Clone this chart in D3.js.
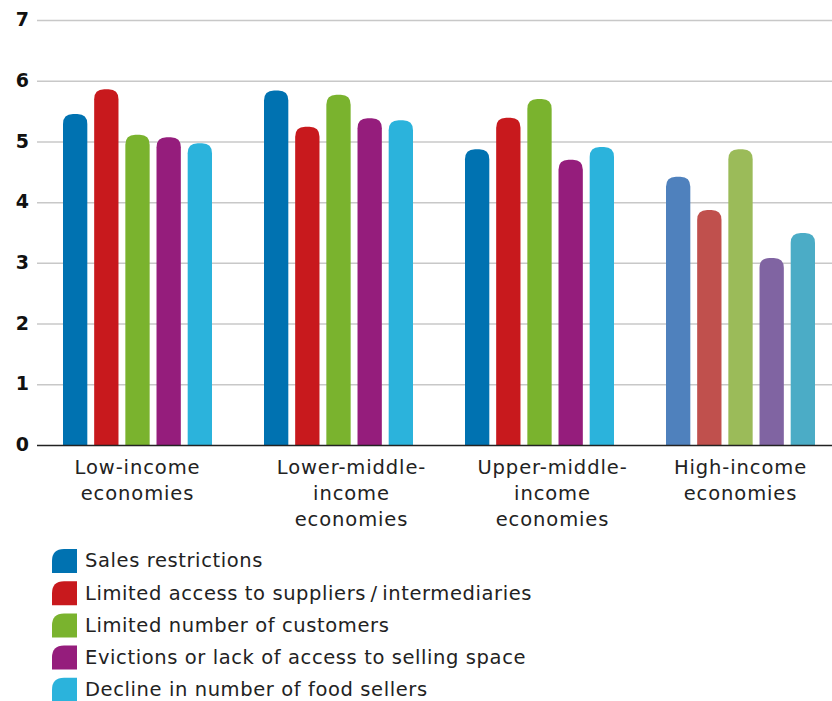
<!DOCTYPE html>
<html>
<head>
<meta charset="utf-8">
<script src="https://cdn.jsdelivr.net/npm/d3@7"></script>
<style>
  html, body { margin: 0; padding: 0; background: #fff; }
  svg { display: block; font-family: "DejaVu Sans", sans-serif; }
</style>
</head>
<body>
<svg id="chart" width="832" height="701"></svg>
<script>
// Economy groups (x axis) and the factors compared within each group
const categories = [
  ["Low-income", "economies"],
  ["Lower-middle-", "income", "economies"],
  ["Upper-middle-", "income", "economies"],
  ["High-income", "economies"]
];
const seriesNames = [
  "Sales restrictions",
  "Limited access to suppliers\u2009/\u2009intermediaries",
  "Limited number of customers",
  "Evictions or lack of access to selling space",
  "Decline in number of food sellers"
];
// values[series][group]
const salesRestrictions   = [5.45, 5.84, 4.87, 4.42];
const supplierAccess      = [5.86, 5.24, 5.39, 3.87];
const customerNumbers     = [5.11, 5.77, 5.70, 4.87];
const sellingSpace        = [5.07, 5.38, 4.70, 3.08];
const foodSellerDecline   = [4.97, 5.35, 4.91, 3.49];
const yTicks = [0, 1, 2, 3, 4, 5, 6, 7];

const values = [salesRestrictions, supplierAccess, customerNumbers, sellingSpace, foodSellerDecline];
const colors = ["#0072b1", "#c8191d", "#7ab32e", "#951d7c", "#2bb3dc"];
// the last group is drawn in a softer palette
const softColors = ["#4f81bd", "#c0504d", "#9bbb59", "#8064a2", "#4bacc6"];

const svg = d3.select("#chart");
const groupIdx = d3.range(categories.length);

const x0 = d3.scaleBand().domain(groupIdx).range([37, 841]).paddingInner(0).paddingOuter(0);
const x1 = d3.scaleBand().domain(d3.range(seriesNames.length))
  .range([26, x0.bandwidth() - 26]).paddingInner(0.22).paddingOuter(0);
const y = d3.scaleLinear().domain([0, 7]).range([445, 20]);

// gridlines
svg.append("g").selectAll("line").data(yTicks.filter(d => d > 0)).join("line")
  .attr("x1", 37).attr("x2", 832)
  .attr("y1", d => y(d) + 0.5).attr("y2", d => y(d) + 0.5)
  .attr("stroke", "#c8c8c8").attr("stroke-width", 1.5);

// y axis tick labels
const yAxis = d3.axisLeft(y).tickValues(yTicks).tickSize(0).tickPadding(0).tickFormat(d3.format("d"));
const yg = svg.append("g").attr("transform", "translate(29,0)").call(yAxis);
yg.select(".domain").remove();
yg.selectAll("text").attr("font-size", 19).attr("font-weight", "bold")
  .attr("fill", "#111").attr("font-family", "DejaVu Sans, sans-serif").attr("dy", "0.3em");

// bars with rounded tops
function barPath(xp, w, yTop, yBase, r) {
  r = Math.min(r, w / 2, yBase - yTop);
  return `M${xp},${yBase}V${yTop + r}Q${xp},${yTop} ${xp + r},${yTop}` +
         `H${xp + w - r}Q${xp + w},${yTop} ${xp + w},${yTop + r}V${yBase}Z`;
}

const bars = [];
groupIdx.forEach(g => values.forEach((vals, s) => bars.push({ g, s, v: vals[g] })));

svg.append("g").selectAll("path").data(bars).join("path")
  .attr("d", d => barPath(x0(d.g) + x1(d.s), x1.bandwidth(), y(d.v), y(0), 10))
  .attr("fill", d => d.g === 3 ? softColors[d.s] : colors[d.s]);

// baseline
svg.append("line").attr("x1", 37).attr("x2", 832).attr("y1", y(0) + 0.5).attr("y2", y(0) + 0.5)
  .attr("stroke", "#222").attr("stroke-width", 1.5);

// category labels; the hyphen-wrapped three-line labels sit a little right of centre
const labelX = g => x0(g) + x0.bandwidth() / 2 + (categories[g].length > 2 ? 13 : 0);
const catG = svg.append("g").selectAll("text").data(groupIdx).join("text")
  .attr("x", labelX)
  .attr("y", 474)
  .attr("text-anchor", "middle").attr("font-size", 19.5)
  .attr("letter-spacing", 0.9).attr("fill", "#222");
catG.selectAll("tspan").data(g => categories[g].map(t => ({ t, g }))).join("tspan")
  .attr("x", d => labelX(d.g))
  .attr("dy", (d, i) => i === 0 ? 0 : 26)
  .text(d => d.t);

// legend
const legend = svg.append("g").selectAll("g").data(seriesNames).join("g")
  .attr("transform", (d, i) => `translate(52,${549 + i * 32.2})`);
legend.append("path")
  .attr("d", "M0,24V12Q0,0 12,0H25V24Z")
  .attr("fill", (d, i) => colors[i]);
legend.append("text").attr("x", 33).attr("y", 12).attr("dy", "0.33em")
  .attr("font-size", 19.5).attr("letter-spacing", 0.6)
  .attr("fill", "#222").text(d => d);
</script>
</body>
</html>
